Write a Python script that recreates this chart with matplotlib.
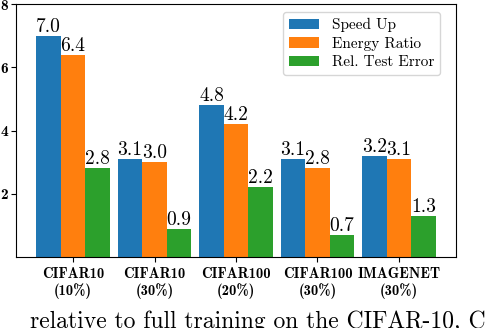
import numpy as np
import matplotlib
matplotlib.use("Agg")
import matplotlib.pyplot as plt

# --- data ---
datasets = ["CIFAR10\n(10%)", "CIFAR10\n(30%)", "CIFAR100\n(20%)",
            "CIFAR100\n(30%)", "IMAGENET\n(30%)"]
speed_up = [7.0, 3.1, 4.8, 3.1, 3.2]
energy_ratio = [6.4, 3.0, 4.2, 2.8, 3.1]
rel_test_error = [2.8, 0.9, 2.2, 0.7, 1.3]
series_names = ["Speed Up", "Energy Ratio", "Rel. Test Error"]
yticks = [2, 4, 6, 8]

plt.rcParams["font.family"] = "serif"
plt.rcParams["font.serif"] = ["cmr10"]
plt.rcParams["mathtext.fontset"] = "cm"
plt.rcParams["axes.unicode_minus"] = False

fig = plt.figure(figsize=(4.88, 3.28), dpi=100)
ax = fig.add_axes([16 / 488, 1 - 257 / 328, 440 / 488, 253 / 328])

x = np.arange(len(datasets))
w = 0.3
colors = ["#1f77b4", "#ff7f0e", "#2ca02c"]
for i, (vals, name) in enumerate(zip([speed_up, energy_ratio, rel_test_error], series_names)):
    bars = ax.bar(x + (i - 1) * w, vals, w, color=colors[i], label=name)
    ax.bar_label(bars, labels=[f"{v:.1f}" for v in vals], fontsize=14, padding=0)

ax.set_xlim(-0.7, 4.7)
ax.set_ylim(0, 8)
ax.set_yticks(yticks)
ax.set_xticks(x)
ax.set_xticklabels(datasets, fontfamily="cmb10", fontsize=10.5)
ax.set_yticklabels([str(t) for t in yticks], fontfamily="cmb10", fontsize=11)
ax.tick_params(axis="y", pad=2)

ax.legend(loc="upper right", fontsize=11, handlelength=2.0, labelspacing=0.3,
          borderaxespad=0, bbox_to_anchor=(424 / 440, 1 - 8 / 253))

# caption of the paper, cut off by the crop
fig.text(30 / 488, 0 / 328, "relative to full training on the CIFAR-10, C",
         fontsize=17, va="baseline", ha="left")

fig.savefig("out.png", dpi=100)
